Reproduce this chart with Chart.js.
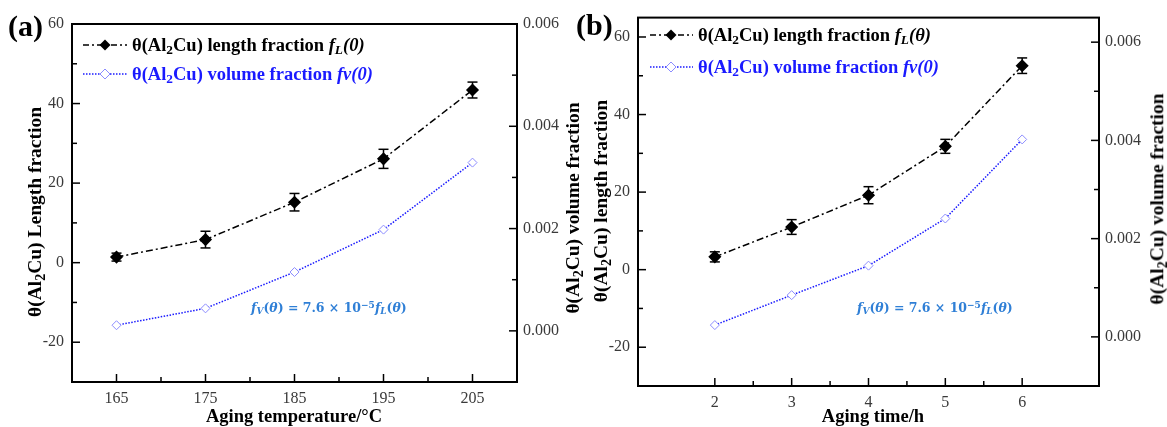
<!DOCTYPE html>
<html><head><meta charset="utf-8">
<script src="https://cdn.jsdelivr.net/npm/chart.js@4.4.1/dist/chart.umd.min.js"></script>
<style>
body{margin:0;background:#fff;}
#wrap{position:relative;width:1167px;height:427px;overflow:hidden;font-family:"Liberation Serif","Times New Roman",serif;background:#fff;}
canvas{position:absolute;top:0;}
.t{position:absolute;white-space:nowrap;font-weight:bold;font-size:18.5px;color:#000;line-height:1;}
.yt{font-size:19.5px;}
.rot{transform:translate(-50%,-50%) rotate(-90deg);}
.ctr{transform:translate(-50%,-50%);}
.lv{transform:translateY(-50%);}
sub{font-size:0.72em;vertical-align:-0.28em;line-height:0;}
sup{font-size:0.72em;vertical-align:0.45em;line-height:0;}
.blue{color:#1a1aff;}
.pl{font-size:30px;}
.ann{position:absolute;white-space:nowrap;font-family:"DejaVu Serif",serif;font-weight:bold;font-size:12.5px;color:#2f7fd6;line-height:1;transform:translateY(-50%);}
svg{position:absolute;overflow:visible;}
</style></head>
<body>
<div id="wrap">
<canvas id="ca" width="583" height="427" style="left:0"></canvas>
<canvas id="cb" width="584" height="427" style="left:583px"></canvas>

<div class="t pl" style="left:8px;top:11px;">(a)</div>
<div class="t pl" style="left:576px;top:10px;">(b)</div>

<div class="t yt rot" style="left:35px;top:212px;">θ(Al<sub>2</sub>Cu) Length fraction</div>
<div class="t yt rot" style="left:573px;top:208px;">θ(Al<sub>2</sub>Cu) volume fraction</div>
<div class="t ctr" style="left:294px;top:416px;">Aging temperature/°C</div>

<div class="t yt rot" style="left:601px;top:201px;">θ(Al<sub>2</sub>Cu) length fraction</div>
<div class="t yt rot" style="left:1157px;top:199px;">θ(Al<sub>2</sub>Cu) volume fraction</div>
<div class="t ctr" style="left:873px;top:416px;">Aging time/h</div>

<svg width="1" height="1" style="left:0;top:0">
  <line x1="83" y1="45" x2="127" y2="45" stroke="#000" stroke-width="1.5" stroke-dasharray="6,3,2,3"/>
  <polygon points="105,39.5 110.5,45 105,50.5 99.5,45" fill="#000"/>
  <line x1="83" y1="74" x2="127" y2="74" stroke="#1a1aff" stroke-width="1.3" stroke-dasharray="1.5,1.5"/>
  <polygon points="105,69 110,74 105,79 100,74" fill="#fff" stroke="#8c8cff" stroke-width="1"/>
  <line x1="650" y1="35" x2="693" y2="35" stroke="#000" stroke-width="1.5" stroke-dasharray="6,3,2,3"/>
  <polygon points="671,29.5 676.5,35 671,40.5 665.5,35" fill="#000"/>
  <line x1="650" y1="67" x2="693" y2="67" stroke="#1a1aff" stroke-width="1.3" stroke-dasharray="1.5,1.5"/>
  <polygon points="671,62 676,67 671,72 666,67" fill="#fff" stroke="#8c8cff" stroke-width="1"/>
</svg>
<div class="t lv" style="left:132px;top:45px;">θ(Al<sub>2</sub>Cu) length fraction <i>f<sub>L</sub>(0)</i></div>
<div class="t lv blue" style="left:132px;top:74px;">θ(Al<sub>2</sub>Cu) volume fraction <i>fv(0)</i></div>
<div class="t lv" style="left:698px;top:35px;">θ(Al<sub>2</sub>Cu) length fraction <i>f<sub>L</sub>(θ)</i></div>
<div class="t lv blue" style="left:698px;top:67px;">θ(Al<sub>2</sub>Cu) volume fraction <i>fv(0)</i></div>

<div class="ann" style="left:251px;top:308px;"><i>f<sub>V</sub></i>(<i>θ</i>) = 7.6 × 10<sup>−5</sup><i>f<sub>L</sub></i>(<i>θ</i>)</div>
<div class="ann" style="left:857px;top:308px;"><i>f<sub>V</sub></i>(<i>θ</i>) = 7.6 × 10<sup>−5</sup><i>f<sub>L</sub></i>(<i>θ</i>)</div>
</div>

<script>
// ---- data ----
const tempCats = [165, 175, 185, 195, 205];
const lenA = [1.4, 5.8, 15.2, 26.1, 43.4];
const errA = [1.0, 2.1, 2.2, 2.4, 2.0];
const volA = [0.00011, 0.00044, 0.00115, 0.00198, 0.00329];

const timeCats = [2, 3, 4, 5, 6];
const lenB = [3.3, 11.0, 19.2, 31.8, 52.6];
const errB = [1.3, 1.9, 2.2, 1.8, 2.0];
const volB = [0.00024, 0.00085, 0.00145, 0.00241, 0.00402];

const leftTicks = [-20, 0, 20, 40, 60];
const leftMinor = [-10, 10, 30, 50];
const rightTicks = [0, 0.002, 0.004, 0.006];
const rightMinor = [0.001, 0.003, 0.005];
const xTicksA = [165, 175, 185, 195, 205];
const xMinorA = [170, 180, 190, 200];
const xTicksB = [2, 3, 4, 5, 6];
const xMinorB = [2.5, 3.5, 4.5, 5.5];

const tickFont = {family: "'Liberation Serif','Times New Roman',serif", size: 16};
const tickColor = '#3a3a3a';

const decor = {
  id: 'decor',
  afterDatasetsDraw(chart, args, o) {
    const {ctx, chartArea: a, scales: {x, y, y1}} = chart;
    const ln = (x1, y1_, x2, y2) => { ctx.beginPath(); ctx.moveTo(x1, y1_); ctx.lineTo(x2, y2); ctx.stroke(); };
    ctx.save();
    ctx.strokeStyle = '#000';
    ctx.setLineDash([]);
    // error bars
    ctx.lineWidth = 1.5;
    const pts = chart.data.datasets[0].data;
    o.err.forEach((e, i) => {
      const px = x.getPixelForValue(pts[i].x);
      const yt = y.getPixelForValue(pts[i].y + e), yb = y.getPixelForValue(pts[i].y - e);
      ln(px, yt, px, yb); ln(px - 5, yt, px + 5, yt); ln(px - 5, yb, px + 5, yb);
    });
    // frame
    ctx.lineWidth = 2;
    ctx.strokeRect(a.left, a.top, a.right - a.left, a.bottom - a.top);
    // inward ticks
    ctx.lineWidth = 1.5;
    const MAJ = 8, MIN = 5;
    x.ticks.forEach(t => { const p = x.getPixelForValue(t.value); ln(p, a.bottom, p, a.bottom - MAJ); });
    o.xMinor.forEach(v => { const p = x.getPixelForValue(v); ln(p, a.bottom, p, a.bottom - MIN); });
    y.ticks.forEach(t => { const p = y.getPixelForValue(t.value); ln(a.left, p, a.left + MAJ, p); });
    o.yMinor.forEach(v => { const p = y.getPixelForValue(v); ln(a.left, p, a.left + MIN, p); });
    y1.ticks.forEach(t => { const p = y1.getPixelForValue(t.value); ln(a.right, p, a.right - MAJ, p); });
    o.y1Minor.forEach(v => { const p = y1.getPixelForValue(v); ln(a.right, p, a.right - MIN, p); });
    ctx.restore();
  }
};

function makeChart(id, cats, len, err, vol, geo) {
  const lenPts = cats.map((c, i) => ({x: c, y: len[i]}));
  const volPts = cats.map((c, i) => ({x: c, y: vol[i]}));
  return new Chart(document.getElementById(id), {
    type: 'line',
    data: {datasets: [
      {data: lenPts, yAxisID: 'y', borderColor: '#000', borderWidth: 1.5, borderDash: [7, 3, 2, 3],
       pointStyle: 'rectRot', pointRadius: 5.5, pointBackgroundColor: '#000', pointBorderColor: '#000', tension: 0},
      {data: volPts, yAxisID: 'y1', borderColor: '#1a1aff', borderWidth: 1.5, borderDash: [1.5, 1.5],
       pointStyle: 'rectRot', pointRadius: 4.5, pointBackgroundColor: '#fff', pointBorderColor: '#8c8cff', pointBorderWidth: 1, tension: 0}
    ]},
    options: {
      responsive: false, animation: false, devicePixelRatio: 1,
      layout: {padding: {top: geo.top, left: 0, right: 0, bottom: 0}},
      plugins: {legend: {display: false}, tooltip: {enabled: false},
        decor: {err: err, xMinor: geo.xMinor, yMinor: leftMinor, y1Minor: rightMinor}},
      scales: {
        x: {type: 'linear', min: geo.xmin, max: geo.xmax,
          afterBuildTicks: s => { s.ticks = geo.xTicks.map(v => ({value: v})); },
          afterFit: s => { s.height = geo.xh; },
          grid: {display: false, drawTicks: false}, border: {display: false},
          ticks: {font: tickFont, color: tickColor, padding: 7, maxRotation: 0}},
        y: {position: 'left', min: -30, max: geo.ymax,
          afterBuildTicks: s => { s.ticks = leftTicks.map(v => ({value: v})); },
          afterFit: s => { s.width = geo.yw; },
          grid: {display: false, drawTicks: false}, border: {display: false},
          ticks: {font: tickFont, color: tickColor, padding: 8}},
        y1: {position: 'right', min: -0.001, max: geo.y1max,
          afterBuildTicks: s => { s.ticks = rightTicks.map(v => ({value: v})); },
          afterFit: s => { s.width = geo.y1w; },
          grid: {display: false, drawTicks: false}, border: {display: false},
          ticks: {font: tickFont, color: tickColor, padding: 6, callback: v => Number(v).toFixed(3)}}
      }
    },
    plugins: [decor]
  });
}

makeChart('ca', tempCats, lenA, errA, volA,
  {top: 24, xh: 45, yw: 72, y1w: 66, xmin: 160, xmax: 210, ymax: 60, y1max: 0.006, xTicks: xTicksA, xMinor: xMinorA});
makeChart('cb', timeCats, lenB, errB, volB,
  {top: 13, xh: 41, yw: 55, y1w: 68, xmin: 1, xmax: 7, ymax: 65, y1max: 0.0065, xTicks: xTicksB, xMinor: xMinorB});
</script>
</body></html>
